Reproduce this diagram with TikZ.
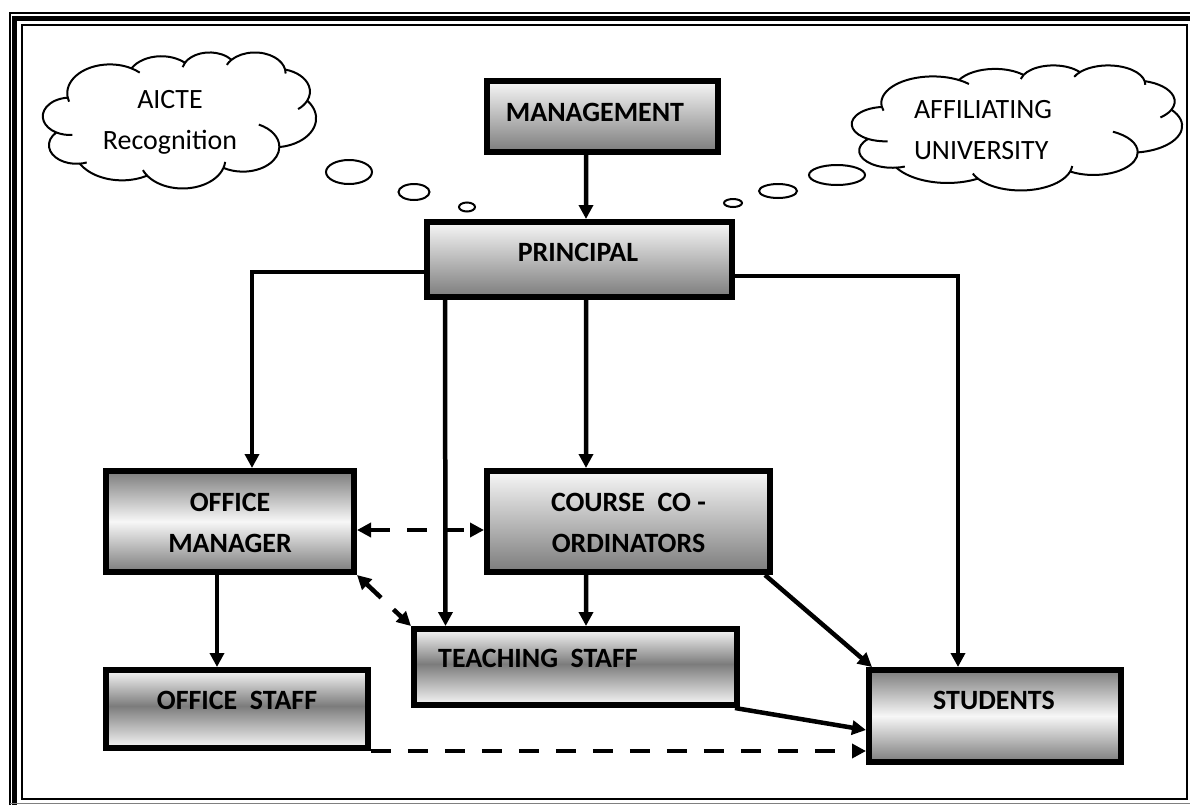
\documentclass[tikz,border=0pt]{standalone}
\usepackage{fontspec}
\setmainfont{Carlito}
\usetikzlibrary{arrows.meta,calc}

\definecolor{shadelite}{RGB}{247,247,247}
\definecolor{shadedark}{RGB}{124,124,124}
% light at the top, dark at the bottom
\pgfdeclareverticalshading{fadeband}{100bp}{color(0bp)=(shadedark); color(25bp)=(shadedark); color(75bp)=(shadelite); color(100bp)=(shadelite)}
% light - dark - light from top to bottom
\pgfdeclareverticalshading{darkband}{100bp}{color(0bp)=(shadelite); color(25bp)=(shadelite); color(52bp)=(shadedark); color(75bp)=(shadelite); color(100bp)=(shadelite)}
% dark - light - dark from top to bottom
\pgfdeclareverticalshading{liteband}{100bp}{color(0bp)=(shadedark); color(25bp)=(shadedark); color(50bp)=(shadelite); color(75bp)=(shadedark); color(100bp)=(shadedark)}

\tikzset{
  box/.style={draw=black, line width=0.12cm, inner sep=0pt},
  fadedown/.style={box, shading=fadeband},
  midband/.style={box, shading=darkband},
  litemid/.style={box, shading=liteband},
  lbl/.style={font=\fontsize{15.9pt}{23.2pt}\selectfont\bfseries, inner sep=0pt, align=center, text depth=0pt},
  cloudline/.style={draw=black, line width=0.04cm, line join=round},
  cloudtext/.style={font=\fontsize{15.9pt}{23pt}\selectfont, inner sep=0pt, text depth=0pt},
  bubble/.style={draw=black, line width=0.04cm},
  tip/.tip={Triangle[length=0.28cm,width=0.28cm]},
  conn/.style={line width=0.09cm, -tip},
  dconn/.style={line width=0.09cm, dash pattern=on 0.4cm off 0.34cm},
  frame/.style={draw=black}
}

% thought cloud: left, top, width, height (in picture units)
\newcommand\drawcloud[4]{%
\begin{scope}[shift={(#1,#2)}, x={#3*0.02cm/432}, y={-#4*0.02cm/432}]
  \filldraw[cloudline, fill=white] (39.00,143.70)
    arc[start angle=-187.748, end angle=-59.636, x radius=67.53, y radius=91.90]
    arc[start angle=-152.023, end angle=-45.46, x radius=53.33, y radius=72.67]
    arc[start angle=-153.482, end angle=-37.33, x radius=43.65, y radius=59.45]
    arc[start angle=-139.710, end angle=-10.211, x radius=48.57, y radius=65.95]
    arc[start angle=-74.769, end angle=23.208, x radius=53.33, y radius=72.73]
    arc[start angle=-37.527, end angle=81.865, x radius=67.75, y radius=92.20]
    arc[start angle=0.4596, end angle=121.97, x radius=57.85, y radius=78.67]
    arc[start angle=16.843, end angle=146.239, x radius=67.52, y radius=92.15]
    arc[start angle=58.989, end angle=150.167, x radius=77.20, y radius=105.43]
    arc[start angle=-276.695, end angle=-136.913, x radius=43.60, y radius=59.18]
    arc[start angle=-239.635, end angle=-95.891, x radius=43.45, y radius=59.45]
    -- cycle;
  % inner puff strokes
  \draw[cloudline] (46.486,263.533) arc[start angle=85.545, end angle=120.365, x radius=43.45, y radius=59.45];
  \draw[cloudline] (69.160,350.937) arc[start angle=68.235, end angle=83.305, x radius=43.60, y radius=59.18];
  \draw[cloudline] (164.810,392.651) arc[start angle=146.239, end angle=158.476, x radius=67.52, y radius=92.15];
  \draw[cloudline] (288.230,349.047) arc[start angle=4.737, end angle=16.843, x radius=67.52, y radius=92.15];
  \draw[cloudline] (341.564,230.696) arc[start angle=-63.989, end angle=0.4596, x radius=57.85, y radius=78.67];
  \draw[cloudline] (418.181,154.587) arc[start angle=23.208, end angle=49.660, x radius=53.33, y radius=72.73];
  \draw[cloudline] (383.176,55.751) arc[start angle=-10.211, end angle=0.8212, x radius=48.57, y radius=65.95];
  \draw[cloudline] (290.908,40.913) arc[start angle=-156.279, end angle=-139.710, x radius=48.57, y radius=65.95];
  \draw[cloudline] (220.963,48.217) arc[start angle=-167.726, end angle=-153.482, x radius=43.65, y radius=59.45];
  \draw[cloudline] (140.051,52.020) arc[start angle=-59.636, end angle=-45.726, x radius=67.53, y radius=91.90];
  \draw[cloudline] (41.267,157.884) arc[start angle=163.194, end angle=172.252, x radius=67.53, y radius=91.90];
\end{scope}}

\begin{document}
\begin{tikzpicture}[x=0.02cm, y=-0.02cm]
\useasboundingbox (0,0) rectangle (1190,805);
\fill[white] (0,0) rectangle (1190,805);

% page border
\draw[frame, line width=0.04cm] (10,805) -- (10,12.5) -- (1190,12.5);
\draw[frame, line width=0.09cm] (14.5,805) -- (14.5,18.5) -- (1190,18.5);
\draw[frame, line width=0.04cm] (22,25) rectangle (1187,799);
\draw[gray, line width=0.03cm] (10,803.5) -- (1190,803.5);

% thought clouds
\drawcloud{43}{52}{273}{136}
\node[cloudtext, align=center] (aicteT) at (170,120) {AICTE\\Recognition};
\drawcloud{852}{65}{330}{125}
\node[cloudtext, align=left] (univT) at (983,130) {AFFILIATING\\UNIVERSITY};

% thought bubbles
\draw[bubble] (349,172) ellipse [x radius=0.46cm, y radius=0.24cm];
\draw[bubble] (414,192) ellipse [x radius=0.31cm, y radius=0.16cm];
\draw[bubble] (467,207) ellipse [x radius=0.16cm, y radius=0.09cm];
\draw[bubble] (837,175) ellipse [x radius=0.56cm, y radius=0.2cm];
\draw[bubble] (778,191) ellipse [x radius=0.38cm, y radius=0.14cm];
\draw[bubble] (733,203) ellipse [x radius=0.18cm, y radius=0.08cm];

% boxes
\node[fadedown, minimum width=231*0.02cm, minimum height=71*0.02cm] (mgmt) at (602.5,116.5) {};
\node[fadedown, minimum width=305*0.02cm, minimum height=75*0.02cm] (princ) at (579.5,259.5) {};
\node[litemid, minimum width=248*0.02cm, minimum height=101*0.02cm] (offmgr) at (230,521.5) {};
\node[fadedown, minimum width=283*0.02cm, minimum height=101*0.02cm] (course) at (628.5,521.5) {};
\node[midband, minimum width=323*0.02cm, minimum height=76*0.02cm] (teach) at (575.5,667) {};
\node[midband, minimum width=262*0.02cm, minimum height=78*0.02cm] (offstaff) at (237,709) {};
\node[litemid, minimum width=252*0.02cm, minimum height=92*0.02cm] (students) at (995,716) {};

% box labels
\node[lbl] (mgmtT) at ($(mgmt)+(-7.5,-4.5)$) {MANAGEMENT};
\node[lbl] (princT) at ($(princ)+(-1.5,-7.5)$) {PRINCIPAL};
\node[lbl] (offmgrT) at ($(offmgr)+(0,1)$) {OFFICE\\MANAGER};
\node[lbl] (courseT) at ($(course)+(0,1)$) {COURSE~~CO -\\ORDINATORS};
\node[lbl] (teachT) at ($(teach)+(-37.5,-9)$) {TEACHING~~STAFF};
\node[lbl] (offstaffT) at ($(offstaff)+(0,-9)$) {OFFICE~~STAFF};
\node[lbl] (studentsT) at ($(students)+(-1,-16)$) {STUDENTS};

% reporting lines
\draw[conn] ($(mgmt.south)+(-16.5,0)$) -- ($(princ.north)+(6.5,0)$);
\draw[conn] ($(princ.west)+(0,12.5)$) -| ($(offmgr.north)+(22,0)$);
\draw[conn] ($(princ.east)+(0,16.5)$) -| ($(students.north)+(-37,0)$);
\draw[conn] ($(princ.south)+(6.5,0)$) -- ($(course.north)+(-42.5,0)$);
\draw[conn] ($(princ.south)+(-134.5,0)$) -- ($(teach.north)+(-130,0)$);
\draw[conn] ($(course.south)+(-42.5,0)$) -- ($(teach.north)+(10.5,0)$);
\draw[conn] ($(offmgr.south)+(-13,0)$) -- ($(offstaff.north)+(-20,0)$);
\draw[conn] ($(course.south east)+(-8,0)$) -- ($(students.north west)+(6,0)$);
\draw[conn] ($(teach.south east)+(-5,0)$) -- ($(students.west)+(0,14)$);

% coordination lines
\draw[dconn, tip-tip] ($(offmgr.east)+(0,8.5)$) -- ($(course.west)+(0,8.5)$);
\draw[dconn, tip-tip] (offmgr.south east) -- (teach.north west);
\draw[dconn, -tip] (offstaff.south east) -- (students.west |- offstaff.south east);
\end{tikzpicture}
\end{document}
